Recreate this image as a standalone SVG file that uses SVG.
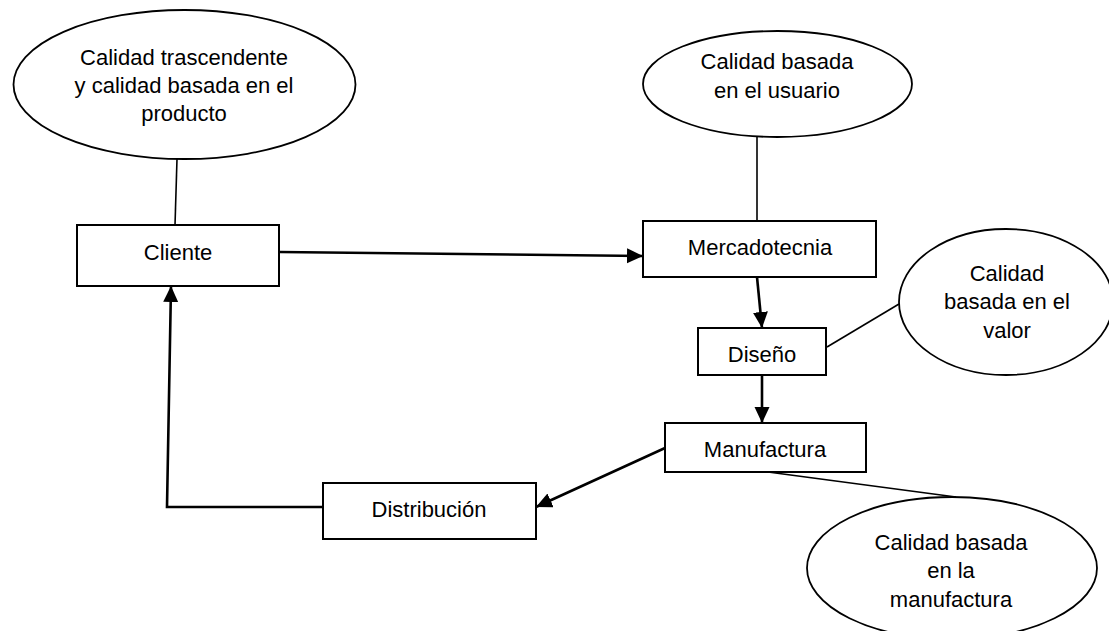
<svg xmlns="http://www.w3.org/2000/svg" width="1109" height="631" viewBox="0 0 1109 631">
<style>
.bg{fill:#ffffff}
.box{fill:#ffffff;stroke:#000;stroke-width:2}
.oval{fill:#ffffff;stroke:#000;stroke-width:1.8}
.link{fill:none;stroke:#000;stroke-width:1.6}
.arrow{fill:none;stroke:#000;stroke-width:2.6;marker-end:url(#ah)}
text{font-family:"Liberation Sans",Arial,sans-serif;font-size:22px;fill:#000;text-anchor:middle}
</style>
<defs>
<marker id="ah" markerUnits="userSpaceOnUse" markerWidth="17" markerHeight="16" refX="16" refY="7.5" orient="auto">
<path d="M0,0 L16,7.5 L0,15 z" fill="#000"/>
</marker>
</defs>
<rect class="bg" x="0" y="0" width="1109" height="631"/>
<g id="connectors">
<line class="link" x1="177" y1="159" x2="175" y2="225"/>
<line class="link" x1="757" y1="137" x2="757" y2="221"/>
<line class="link" x1="827" y1="347" x2="899" y2="304"/>
<line class="link" x1="768" y1="472" x2="956" y2="497"/>
<line class="arrow" x1="280" y1="252" x2="643" y2="256"/>
<line class="arrow" x1="757" y1="277" x2="762" y2="328"/>
<line class="arrow" x1="762" y1="375" x2="762" y2="423"/>
<line class="arrow" x1="665" y1="448" x2="536" y2="507"/>
<polyline class="arrow" points="323,507 167,507 171,286"/>
</g>
<g id="e-trascendente">
<ellipse class="oval" cx="184.5" cy="84.5" rx="171" ry="74.5"/>
<text x="184" y="65">Calidad trascendente</text>
<text x="184" y="93">y calidad basada en el</text>
<text x="184" y="121">producto</text>
</g>
<g id="e-usuario">
<ellipse class="oval" cx="777.5" cy="84" rx="134.5" ry="53"/>
<text x="777" y="69">Calidad basada</text>
<text x="777" y="98">en el usuario</text>
</g>
<g id="e-valor">
<ellipse class="oval" cx="1006" cy="302" rx="107" ry="73"/>
<text x="1007" y="281">Calidad</text>
<text x="1007" y="309">basada en el</text>
<text x="1007" y="338">valor</text>
</g>
<g id="e-manufactura">
<ellipse class="oval" cx="952" cy="568" rx="145" ry="71"/>
<text x="951" y="550">Calidad basada</text>
<text x="951" y="578">en la</text>
<text x="951" y="607">manufactura</text>
</g>
<g id="n-cliente">
<rect class="box" x="77" y="225" width="202" height="61"/>
<text x="178" y="260">Cliente</text>
</g>
<g id="n-mercadotecnia">
<rect class="box" x="643" y="221" width="233" height="56"/>
<text x="760" y="255">Mercadotecnia</text>
</g>
<g id="n-diseno">
<rect class="box" x="698" y="328" width="128" height="47"/>
<text x="762" y="362">Diseño</text>
</g>
<g id="n-manufactura">
<rect class="box" x="665" y="423" width="201" height="49"/>
<text x="765" y="457">Manufactura</text>
</g>
<g id="n-distribucion">
<rect class="box" x="323" y="483" width="213" height="56"/>
<text x="429" y="517">Distribución</text>
</g>
</svg>
